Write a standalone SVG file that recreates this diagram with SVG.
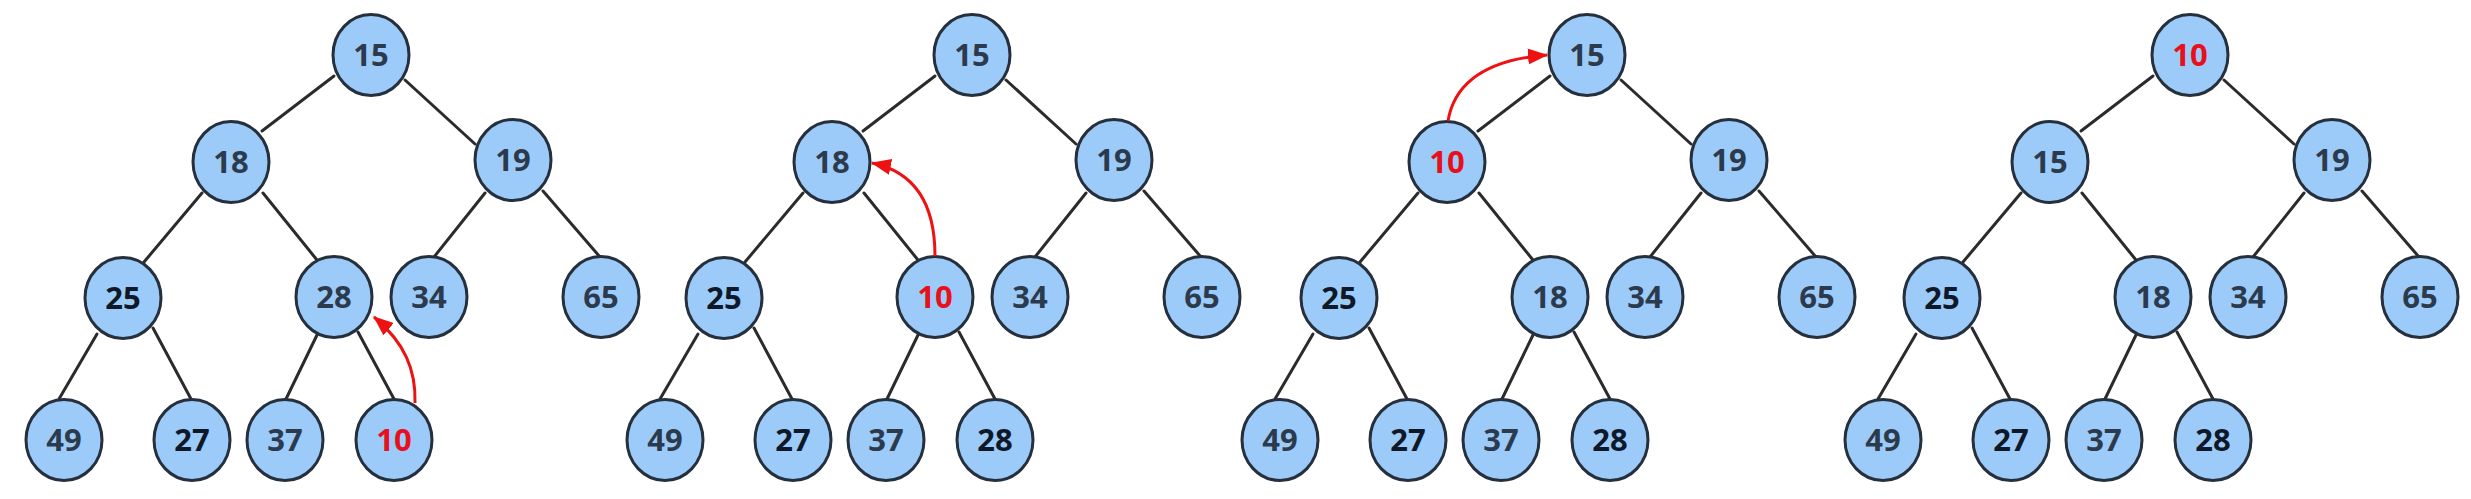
<svg xmlns="http://www.w3.org/2000/svg" width="2471" height="499" viewBox="0 0 2471 499">
<style>
.nd ellipse{fill:#9ccbf9;stroke:#26303c;stroke-width:3}
.nd text{font-family:"Open Sans","Noto Sans","DejaVu Sans",sans-serif;font-size:31px;font-weight:700;text-anchor:middle;fill:#2c3a4d}
.nd text.dk{fill:#0f1828}
.nd text.red{fill:#e8101c}
.edges line{stroke:#2b2b2b;stroke-width:3;stroke-linecap:round}
.arrow{fill:none;stroke:#ee1111;stroke-width:3;marker-end:url(#ah)}
</style>
<defs>
<marker id="ah" viewBox="0 0 20 16" refX="19" refY="8" markerWidth="20" markerHeight="16" markerUnits="userSpaceOnUse" orient="auto"><path d="M0,0 L20,8 L0,16 z" fill="#ee1111"/></marker>
</defs>
<rect width="2471" height="499" fill="#ffffff"/>

<!-- Tree 1 -->
<g id="tree1">
<g class="edges" id="t1-edges">
<line x1="334" y1="76" x2="262" y2="131"/>
<line x1="405" y1="80" x2="475" y2="144"/>
<line x1="202" y1="193" x2="144" y2="262"/>
<line x1="263" y1="193" x2="317" y2="260"/>
<line x1="485" y1="193" x2="434" y2="257"/>
<line x1="543" y1="191" x2="600" y2="257"/>
<line x1="97" y1="334" x2="59" y2="399"/>
<line x1="153" y1="328" x2="191" y2="399"/>
<line x1="317" y1="335" x2="286" y2="399"/>
<line x1="358" y1="332" x2="394" y2="399"/>
</g>
<g class="nd" id="t1-15"><ellipse cx="371" cy="55" rx="38" ry="40.5"/><text x="371" y="66">15</text></g>
<g class="nd" id="t1-18"><ellipse cx="231" cy="162" rx="38" ry="40.5"/><text x="231" y="173">18</text></g>
<g class="nd" id="t1-19"><ellipse cx="513" cy="160" rx="38" ry="40.5"/><text x="513" y="171">19</text></g>
<g class="nd" id="t1-25"><ellipse cx="123" cy="298" rx="38" ry="40.5"/><text class="dk" x="123" y="309">25</text></g>
<g class="nd" id="t1-28"><ellipse cx="334" cy="297" rx="38" ry="40.5"/><text x="334" y="308">28</text></g>
<g class="nd" id="t1-34"><ellipse cx="429" cy="297" rx="38" ry="40.5"/><text x="429" y="308">34</text></g>
<g class="nd" id="t1-65"><ellipse cx="601" cy="297" rx="38" ry="40.5"/><text x="601" y="308">65</text></g>
<g class="nd" id="t1-49"><ellipse cx="64" cy="440" rx="38" ry="40.5"/><text x="64" y="451">49</text></g>
<g class="nd" id="t1-27"><ellipse cx="192" cy="440" rx="38" ry="40.5"/><text class="dk" x="192" y="451">27</text></g>
<g class="nd" id="t1-37"><ellipse cx="285" cy="440" rx="38" ry="40.5"/><text x="285" y="451">37</text></g>
<g class="nd" id="t1-10"><ellipse cx="394" cy="440" rx="38" ry="40.5"/><text class="red" x="394" y="451">10</text></g>
<g id="t1-arrow"><path class="arrow" d="M415,403 C416,370 405,343 374,317"/></g>
</g>

<!-- Tree 2 -->
<g id="tree2" transform="translate(601,0)">
<g class="edges" id="t2-edges">
<line x1="334" y1="76" x2="262" y2="131"/>
<line x1="405" y1="80" x2="475" y2="144"/>
<line x1="202" y1="193" x2="144" y2="262"/>
<line x1="263" y1="193" x2="317" y2="260"/>
<line x1="485" y1="193" x2="434" y2="257"/>
<line x1="543" y1="191" x2="600" y2="257"/>
<line x1="97" y1="334" x2="59" y2="399"/>
<line x1="153" y1="328" x2="191" y2="399"/>
<line x1="317" y1="335" x2="286" y2="399"/>
<line x1="358" y1="332" x2="394" y2="399"/>
</g>
<g class="nd" id="t2-15"><ellipse cx="371" cy="55" rx="38" ry="40.5"/><text x="371" y="66">15</text></g>
<g class="nd" id="t2-18"><ellipse cx="231" cy="162" rx="38" ry="40.5"/><text x="231" y="173">18</text></g>
<g class="nd" id="t2-19"><ellipse cx="513" cy="160" rx="38" ry="40.5"/><text x="513" y="171">19</text></g>
<g class="nd" id="t2-25"><ellipse cx="123" cy="298" rx="38" ry="40.5"/><text class="dk" x="123" y="309">25</text></g>
<g class="nd" id="t2-10"><ellipse cx="334" cy="297" rx="38" ry="40.5"/><text class="red" x="334" y="308">10</text></g>
<g class="nd" id="t2-34"><ellipse cx="429" cy="297" rx="38" ry="40.5"/><text x="429" y="308">34</text></g>
<g class="nd" id="t2-65"><ellipse cx="601" cy="297" rx="38" ry="40.5"/><text x="601" y="308">65</text></g>
<g class="nd" id="t2-49"><ellipse cx="64" cy="440" rx="38" ry="40.5"/><text x="64" y="451">49</text></g>
<g class="nd" id="t2-27"><ellipse cx="192" cy="440" rx="38" ry="40.5"/><text class="dk" x="192" y="451">27</text></g>
<g class="nd" id="t2-37"><ellipse cx="285" cy="440" rx="38" ry="40.5"/><text x="285" y="451">37</text></g>
<g class="nd" id="t2-28"><ellipse cx="394" cy="440" rx="38" ry="40.5"/><text class="dk" x="394" y="451">28</text></g>
<g id="t2-arrow"><path class="arrow" d="M334,256 Q334,176 271,163"/></g>
</g>

<!-- Tree 3 -->
<g id="tree3" transform="translate(1216,0)">
<g class="edges" id="t3-edges">
<line x1="334" y1="76" x2="262" y2="131"/>
<line x1="405" y1="80" x2="475" y2="144"/>
<line x1="202" y1="193" x2="144" y2="262"/>
<line x1="263" y1="193" x2="317" y2="260"/>
<line x1="485" y1="193" x2="434" y2="257"/>
<line x1="543" y1="191" x2="600" y2="257"/>
<line x1="97" y1="334" x2="59" y2="399"/>
<line x1="153" y1="328" x2="191" y2="399"/>
<line x1="317" y1="335" x2="286" y2="399"/>
<line x1="358" y1="332" x2="394" y2="399"/>
</g>
<g class="nd" id="t3-15"><ellipse cx="371" cy="55" rx="38" ry="40.5"/><text x="371" y="66">15</text></g>
<g class="nd" id="t3-10"><ellipse cx="231" cy="162" rx="38" ry="40.5"/><text class="red" x="231" y="173">10</text></g>
<g class="nd" id="t3-19"><ellipse cx="513" cy="160" rx="38" ry="40.5"/><text x="513" y="171">19</text></g>
<g class="nd" id="t3-25"><ellipse cx="123" cy="298" rx="38" ry="40.5"/><text class="dk" x="123" y="309">25</text></g>
<g class="nd" id="t3-18"><ellipse cx="334" cy="297" rx="38" ry="40.5"/><text x="334" y="308">18</text></g>
<g class="nd" id="t3-34"><ellipse cx="429" cy="297" rx="38" ry="40.5"/><text x="429" y="308">34</text></g>
<g class="nd" id="t3-65"><ellipse cx="601" cy="297" rx="38" ry="40.5"/><text x="601" y="308">65</text></g>
<g class="nd" id="t3-49"><ellipse cx="64" cy="440" rx="38" ry="40.5"/><text x="64" y="451">49</text></g>
<g class="nd" id="t3-27"><ellipse cx="192" cy="440" rx="38" ry="40.5"/><text class="dk" x="192" y="451">27</text></g>
<g class="nd" id="t3-37"><ellipse cx="285" cy="440" rx="38" ry="40.5"/><text x="285" y="451">37</text></g>
<g class="nd" id="t3-28"><ellipse cx="394" cy="440" rx="38" ry="40.5"/><text class="dk" x="394" y="451">28</text></g>
<g id="t3-arrow"><path class="arrow" d="M232,121 Q242,62 331,55"/></g>
</g>

<!-- Tree 4 -->
<g id="tree4" transform="translate(1819,0)">
<g class="edges" id="t4-edges">
<line x1="334" y1="76" x2="262" y2="131"/>
<line x1="405" y1="80" x2="475" y2="144"/>
<line x1="202" y1="193" x2="144" y2="262"/>
<line x1="263" y1="193" x2="317" y2="260"/>
<line x1="485" y1="193" x2="434" y2="257"/>
<line x1="543" y1="191" x2="600" y2="257"/>
<line x1="97" y1="334" x2="59" y2="399"/>
<line x1="153" y1="328" x2="191" y2="399"/>
<line x1="317" y1="335" x2="286" y2="399"/>
<line x1="358" y1="332" x2="394" y2="399"/>
</g>
<g class="nd" id="t4-10"><ellipse cx="371" cy="55" rx="38" ry="40.5"/><text class="red" x="371" y="66">10</text></g>
<g class="nd" id="t4-15"><ellipse cx="231" cy="162" rx="38" ry="40.5"/><text x="231" y="173">15</text></g>
<g class="nd" id="t4-19"><ellipse cx="513" cy="160" rx="38" ry="40.5"/><text x="513" y="171">19</text></g>
<g class="nd" id="t4-25"><ellipse cx="123" cy="298" rx="38" ry="40.5"/><text class="dk" x="123" y="309">25</text></g>
<g class="nd" id="t4-18"><ellipse cx="334" cy="297" rx="38" ry="40.5"/><text x="334" y="308">18</text></g>
<g class="nd" id="t4-34"><ellipse cx="429" cy="297" rx="38" ry="40.5"/><text x="429" y="308">34</text></g>
<g class="nd" id="t4-65"><ellipse cx="601" cy="297" rx="38" ry="40.5"/><text x="601" y="308">65</text></g>
<g class="nd" id="t4-49"><ellipse cx="64" cy="440" rx="38" ry="40.5"/><text x="64" y="451">49</text></g>
<g class="nd" id="t4-27"><ellipse cx="192" cy="440" rx="38" ry="40.5"/><text class="dk" x="192" y="451">27</text></g>
<g class="nd" id="t4-37"><ellipse cx="285" cy="440" rx="38" ry="40.5"/><text x="285" y="451">37</text></g>
<g class="nd" id="t4-28"><ellipse cx="394" cy="440" rx="38" ry="40.5"/><text class="dk" x="394" y="451">28</text></g>
</g>
</svg>
